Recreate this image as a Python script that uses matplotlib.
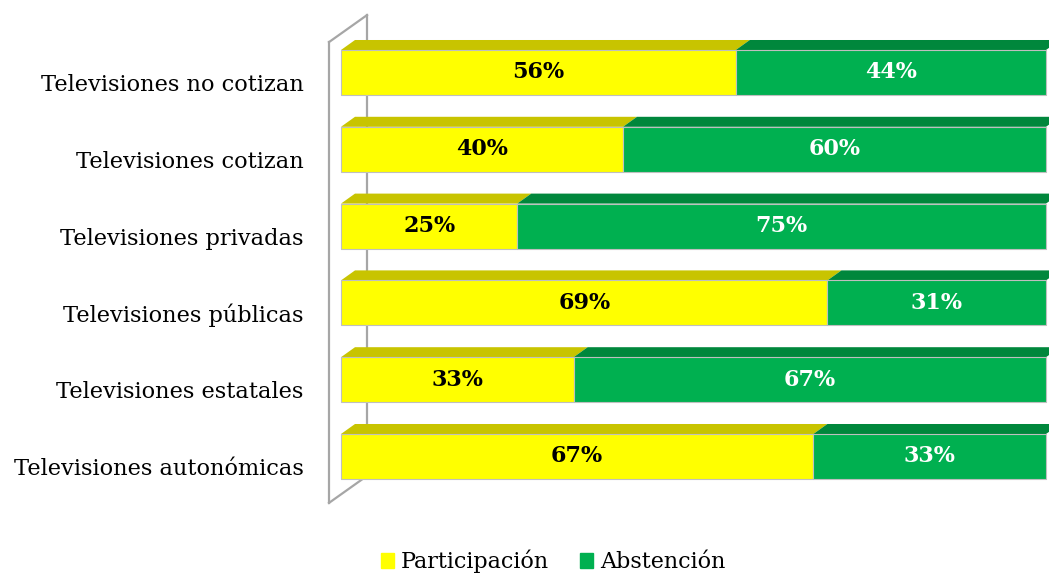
import matplotlib.pyplot as plt
from matplotlib.patches import Polygon
from matplotlib.lines import Line2D
from matplotlib.transforms import ScaledTranslation

# === Data ===
categories = ["Televisiones autonómicas", "Televisiones estatales", "Televisiones públicas",
              "Televisiones privadas", "Televisiones cotizan", "Televisiones no cotizan"]
participacion = [67, 33, 69, 25, 40, 56]
abstencion = [33, 67, 31, 75, 60, 44]
series_names = ["Participación", "Abstención"]

front_colors = ["#FFFF00", "#00B050"]
top_colors = ["#C8C400", "#00873C"]
text_colors = ["black", "white"]

plt.rcParams['font.family'] = ['DejaVu Serif']

fig = plt.figure(figsize=(10.49, 5.76), dpi=100)
W, H = 1049, 576
x0_px, x1_px = 341, 1046
ax = fig.add_axes([x0_px / W, 0.1408, (x1_px - x0_px) / W, 0.80])
ax.set_xlim(0, 100)
ax.set_ylim(-0.5, len(categories) - 0.5)

px_x = 100 / (x1_px - x0_px)      # data units per pixel (x)
px_y = 1 / 76.8                   # data units per pixel (y)
dx, dy = 14 * px_x, 10 * px_y     # 3D depth of bars
bar_h = 0.586

# === Wall (3D side panel) ===
wall_col = "#A6A6A6"
wx0, wx1 = -12 * px_x, 26 * px_x
yb, yt = -0.5 - 8 * px_y, 5.5 - 8 * px_y
wdy = 27 * px_y
for xs, ys in [([wx0, wx0], [yb, yt]), ([wx0, wx1], [yt, yt + wdy]),
               ([wx1, wx1], [yt + wdy, yb + wdy]), ([wx0, wx1], [yb, yb + wdy])]:
    ax.add_line(Line2D(xs, ys, color=wall_col, lw=1.6, clip_on=False, zorder=1))

# === Bars ===
for i in range(len(categories)):
    left = 0
    for s, vals in enumerate([participacion, abstencion]):
        w = vals[i]
        ax.barh(i, w, left=left, height=bar_h, color=front_colors[s],
                edgecolor="#BFBFBF", linewidth=0.8, zorder=3, clip_on=False)
        ytop = i + bar_h / 2
        top = Polygon([(left, ytop), (left + w, ytop), (left + w + dx, ytop + dy),
                       (left + dx, ytop + dy)], closed=True, facecolor=top_colors[s],
                      edgecolor="none", zorder=2, clip_on=False)
        ax.add_patch(top)
        ax.text(left + w / 2, i, f"{w}%", ha="center", va="center", fontsize=16,
                fontweight="bold", color=text_colors[s], zorder=4)
        left += w

ax.set_yticks(range(len(categories)))
ax.set_yticklabels(categories, fontsize=16.2)
ax.tick_params(axis="y", length=0, pad=27)
# labels sit a little lower than the bar centres (3D axis)
shift = ScaledTranslation(0, -0.1, fig.dpi_scale_trans)
for lab in ax.get_yticklabels():
    lab.set_transform(lab.get_transform() + shift)
ax.set_xticks([])
for sp in ax.spines.values():
    sp.set_visible(False)
ax.patch.set_visible(False)

handles = [plt.Rectangle((0, 0), 1, 1, color=c) for c in front_colors]
fig.legend(handles, series_names, loc="center", bbox_to_anchor=(0.527, 0.025),
           ncol=2, frameon=False, fontsize=16, handlelength=0.6, handleheight=0.6,
           handletextpad=0.3, columnspacing=1.4)

fig.savefig("out.png", dpi=100)
